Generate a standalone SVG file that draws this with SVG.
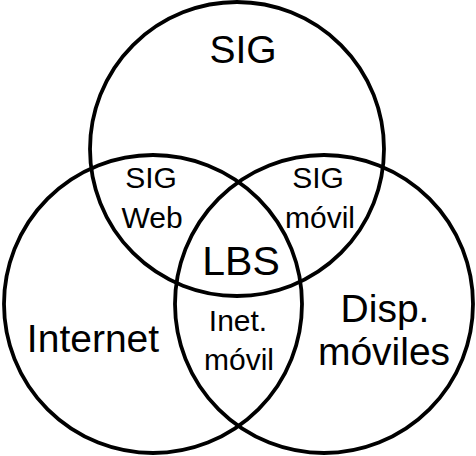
<svg xmlns="http://www.w3.org/2000/svg" width="476" height="456" viewBox="0 0 476 456">
<style>
.c{fill:none;stroke:#000;stroke-width:3.8}
text{font-family:"Liberation Sans",Arial,sans-serif;fill:#000;text-anchor:middle}
.l{font-size:39px}
.m{font-size:30px}
</style>
<rect width="476" height="456" fill="#fff"/>
<g id="sig"><circle class="c" cx="237" cy="149" r="147"/><text class="l" x="243" y="63">SIG</text></g>
<g id="internet"><circle class="c" cx="153" cy="304" r="149"/><text class="l" x="93" y="352">Internet</text></g>
<g id="disp"><circle class="c" cx="324" cy="304" r="149"/><text class="l" x="385" y="322">Disp.</text><text class="l" x="384" y="365">móviles</text></g>
<g id="sigweb"><text class="m" x="151" y="188">SIG</text><text class="m" x="152" y="228">Web</text></g>
<g id="sigmovil"><text class="m" x="318" y="188">SIG</text><text class="m" x="320" y="228">móvil</text></g>
<g id="lbs"><text class="l" x="241" y="275" style="font-size:41px">LBS</text></g>
<g id="inetmovil"><text class="m" x="238" y="331">Inet.</text><text class="m" x="239" y="370">móvil</text></g>
<g id="connectors"></g>
</svg>
